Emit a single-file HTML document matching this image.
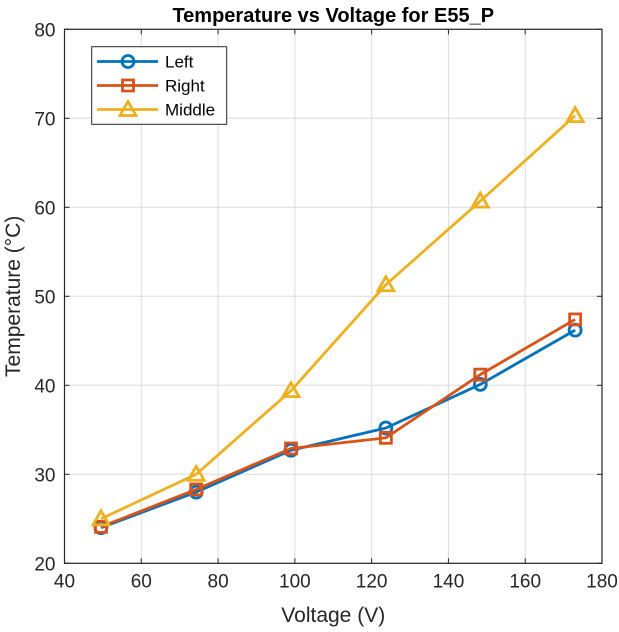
<!DOCTYPE html>
<html><head><meta charset="utf-8"><style>
body{margin:0;background:#fff;}
svg{display:block;font-family:"Liberation Sans",Arial,sans-serif;}
</style></head><body>
<svg id="chart" width="619" height="632"></svg>
<script>
const voltages=[49.5,74.3,99,123.7,148.3,173];
const leftTemps=[24.0,28.0,32.7,35.2,40.1,46.2];
const rightTemps=[24.1,28.3,32.9,34.1,41.2,47.4];
const middleTemps=[25.0,30.0,39.4,51.3,60.7,70.3];
const xTicks=[40,60,80,100,120,140,160,180];
const yTicks=[20,30,40,50,60,70,80];
const seriesNames=["Left","Right","Middle"];

const NS="http://www.w3.org/2000/svg";
const svg=document.getElementById('chart');
const L=64.5,R=602,T=29.3,B=563.3;
const xs=v=>L+(v-40)/140*(R-L);
const ys=v=>B-(v-20)/60*(B-T);
function mk(tag,attrs,parent){const e=document.createElementNS(NS,tag);for(const k in attrs)e.setAttribute(k,attrs[k]);(parent||svg).appendChild(e);return e;}

const grid=mk('g',{});


xTicks.forEach(t=>{mk('line',{x1:xs(t),x2:xs(t),y1:T,y2:B,stroke:'#dcdcdc','stroke-width':1},grid);});
yTicks.forEach(t=>{mk('line',{x1:L,x2:R,y1:ys(t),y2:ys(t),stroke:'#dcdcdc','stroke-width':1},grid);});

const axes=mk('rect',{x:L,y:T,width:R-L,height:B-T,fill:'none',stroke:'#262626','stroke-width':1.2});


xTicks.forEach(t=>{
  mk('line',{x1:xs(t),x2:xs(t),y1:B,y2:B-5,stroke:'#262626'});
  mk('line',{x1:xs(t),x2:xs(t),y1:T,y2:T+5,stroke:'#262626'});
  const tx=mk('text',{x:xs(t),y:B+24,'text-anchor':'middle','font-size':19,fill:'#262626'});
  tx.textContent=t;
  
  
});
yTicks.forEach(t=>{
  mk('line',{x1:L,x2:L+5,y1:ys(t),y2:ys(t),stroke:'#262626'});
  mk('line',{x1:R,x2:R-5,y1:ys(t),y2:ys(t),stroke:'#262626'});
  const tx=mk('text',{x:L-9,y:ys(t)+7,'text-anchor':'end','font-size':19,fill:'#262626'});
  tx.textContent=t;
  
  
});
const title=mk('text',{x:(L+R)/2,y:22,'text-anchor':'middle','font-size':20,'font-weight':'bold',fill:'#000'});
title.textContent='Temperature vs Voltage for E55_P';


const xl=mk('text',{x:(L+R)/2,y:622,'text-anchor':'middle','font-size':21,fill:'#262626'});
xl.textContent='Voltage (V)';


const yl=mk('text',{x:0,y:0,'text-anchor':'middle','font-size':21,fill:'#262626',transform:`translate(20,${(T+B)/2}) rotate(-90)`});
yl.textContent='Temperature (°C)';



const colors=['#0072BD','#D95319','#EDB120'];
function marker(kind,x,y,c,p){
  if(kind===0)return mk('circle',{cx:x,cy:y,r:6,fill:'none',stroke:c,'stroke-width':2.8},p);
  if(kind===1)return mk('rect',{x:x-5.5,y:y-5.5,width:11,height:11,fill:'none',stroke:c,'stroke-width':2.8},p);
  return mk('polygon',{points:`${x},${y-8} ${x+8},${y+6} ${x-8},${y+6}`,fill:'none',stroke:c,'stroke-width':2.8},p);
}
[leftTemps,rightTemps,middleTemps].forEach((vals,i)=>{
  const g=mk('g',{});
  
  
  mk('polyline',{points:vals.map((v,j)=>xs(voltages[j])+','+ys(v)).join(' '),fill:'none',stroke:colors[i],'stroke-width':2.8},g);
  vals.forEach((v,j)=>{
    const m=marker(i,xs(voltages[j]),ys(v),colors[i],g);
    
    
  });
});

const lg=mk('g',{});


mk('rect',{x:91.7,y:46.7,width:135,height:77.6,fill:'#fff',stroke:'#262626','stroke-width':1},lg);
seriesNames.forEach((n,i)=>{
  const y=61.5+i*24;
  const e=mk('g',{},lg);
  
  
  mk('line',{x1:97,x2:158,y1:y,y2:y,stroke:colors[i],'stroke-width':2.8},e);
  marker(i,128,y,colors[i],e);
  const t=mk('text',{x:165,y:y+6,'font-size':17,fill:'#000'},e);
  t.textContent=n;
});
</script>
</body></html>
